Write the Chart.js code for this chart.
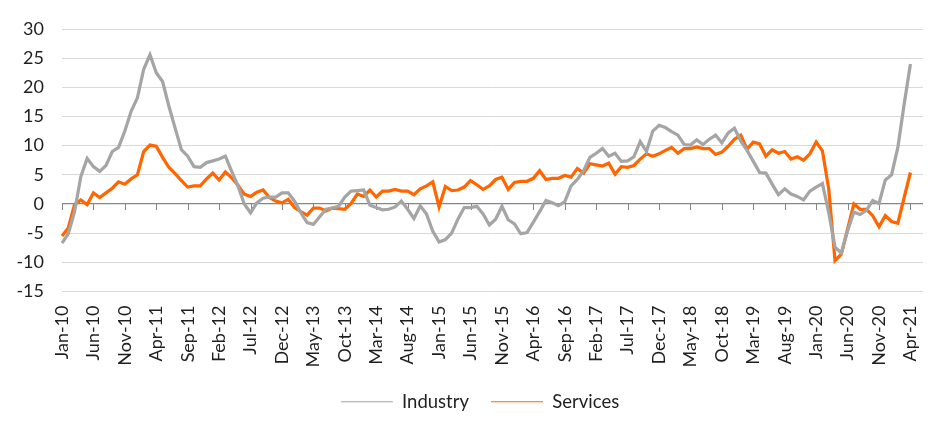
<!DOCTYPE html>
<html lang="en">
<head>
  <meta charset="UTF-8" />
  <title>Industry and Services</title>
  <script src="https://cdn.jsdelivr.net/npm/chart.js"></script>
  <style>
    html, body {
      margin: 0;
      padding: 0;
      background: #ffffff;
    }
    #wrap {
      width: 952px;
      height: 438px;
    }
  </style>
</head>
<body>
  <div id="wrap"><canvas id="chart" width="952" height="438"></canvas></div>

  <script>
    // categories: monthly, Jan-10 onwards (axis runs two months past the last value)
    const monthNames = ['Jan', 'Feb', 'Mar', 'Apr', 'May', 'Jun', 'Jul', 'Aug', 'Sep', 'Oct', 'Nov', 'Dec'];
    const firstYear = 2010;
    const monthCount = 138;
    const labelStep = 5;

    const industry = [
      -6.7, -5.1, -1.3, 4.7, 7.8, 6.4, 5.6, 6.6, 9.0, 9.7, 12.5, 15.9,
      18.2, 23.1, 25.6, 22.5, 21.0, 16.8, 13.0, 9.3, 8.2, 6.4, 6.3, 7.1,
      7.4, 7.7, 8.2, 5.6, 3.1, 0.0, -1.5, 0.2, 1.0, 1.2, 1.2, 1.9,
      1.9, 0.5, -1.5, -3.2, -3.5, -2.2, -0.9, -0.7, -0.4, 1.2, 2.2, 2.3,
      2.4, -0.2, -0.6, -1.0, -0.9, -0.5, 0.5, -0.9, -2.5, -0.3, -1.7, -4.7,
      -6.5, -6.1, -5.0, -2.6, -0.6, -0.6, -0.4, -1.7, -3.6, -2.6, -0.4, -2.7,
      -3.4, -5.1, -4.9, -3.1, -1.3, 0.6, 0.2, -0.3, 0.4, 3.1, 4.2, 5.7,
      8.0, 8.7, 9.5, 8.2, 8.7, 7.3, 7.4, 8.1, 10.7, 9.0, 12.5, 13.5,
      13.1, 12.4, 11.8, 10.2, 10.1, 11.0, 10.2, 11.1, 11.8, 10.5, 12.2, 13.0,
      10.8, 9.2, 7.3, 5.4, 5.3, 3.4, 1.6, 2.6, 1.7, 1.3, 0.7, 2.2,
      2.9, 3.5, -1.5, -7.4, -8.4, -4.6, -1.4, -1.8, -1.1, 0.6, 0.1, 4.1,
      5.0, 9.7, 17.1, 24.0
    ];

    const services = [
      -5.5, -4.1, -0.1, 0.7, -0.1, 1.9, 1.1, 1.9, 2.7, 3.8, 3.4, 4.3,
      5.0, 9.0, 10.1, 9.9, 8.0, 6.3, 5.2, 4.0, 2.9, 3.1, 3.1, 4.3,
      5.3, 4.1, 5.5, 4.5, 3.2, 1.7, 1.3, 2.0, 2.4, 1.1, 0.5, 0.2,
      0.8, -0.6, -1.3, -1.9, -0.7, -0.7, -1.2, -0.7, -0.8, -0.9, 0.1, 1.7,
      1.3, 2.4, 1.2, 2.2, 2.2, 2.5, 2.2, 2.2, 1.6, 2.6, 3.1, 3.8,
      -0.5, 3.0, 2.3, 2.4, 2.9, 4.0, 3.3, 2.5, 3.1, 4.2, 4.6, 2.5,
      3.7, 3.9, 3.9, 4.4, 5.7, 4.2, 4.4, 4.4, 4.9, 4.6, 6.1, 5.3,
      6.9, 6.7, 6.5, 7.0, 5.1, 6.4, 6.3, 6.6, 7.7, 8.6, 8.2, 8.6,
      9.2, 9.7, 8.7, 9.5, 9.5, 9.8, 9.5, 9.5, 8.5, 8.9, 9.9, 11.1,
      11.8, 9.4, 10.6, 10.3, 8.2, 9.3, 8.7, 9.0, 7.7, 8.1, 7.5, 8.6,
      10.6, 9.1, 2.6, -9.7, -8.6, -4.3, 0.0, -0.9, -0.9, -2.0, -3.9, -2.0,
      -3.0, -3.3, 1.1, 5.4
    ];

    const yMin = -15;
    const yMax = 30;
    const yStep = 5;

    const labels = [];
    for (let i = 0; i < monthCount; i++) {
      const yy = String((firstYear + Math.floor(i / 12)) % 100).padStart(2, '0');
      labels.push(monthNames[i % 12] + '-' + yy);
    }

    // short tick marks hanging under the zero line, one per shown label
    const zeroTicks = {
      id: 'zeroTicks',
      beforeDatasetsDraw(chart) {
        const { ctx, scales: { x, y } } = chart;
        const y0 = Math.round(y.getPixelForValue(0));
        ctx.save();
        ctx.strokeStyle = '#868686';
        ctx.lineWidth = 1;
        ctx.beginPath();
        for (let i = 0; i < industry.length; i += labelStep) {
          const px = Math.round(x.getPixelForValue(i)) + 0.5;
          ctx.moveTo(px, y0);
          ctx.lineTo(px, y0 + 6);
        }
        ctx.stroke();
        ctx.restore();
      }
    };

    const font = "Lato, 'Liberation Sans', sans-serif";

    new Chart(document.getElementById('chart'), {
      type: 'line',
      data: {
        labels,
        datasets: [
          { label: 'Industry', data: industry, borderColor: '#A5A5A5', backgroundColor: '#A5A5A5' },
          { label: 'Services', data: services, borderColor: '#FF6600', backgroundColor: '#FF6600' }
        ]
      },
      options: {
        responsive: false,
        animation: false,
        layout: { padding: { top: 29, right: 0, bottom: 17, left: 8 } },
        elements: {
          point: { radius: 0 },
          line: { borderWidth: 3.25, tension: 0 }
        },
        scales: {
          x: {
            type: 'category',
            offset: false,
            grid: { display: false, drawTicks: false },
            border: { display: false },
            afterFit(scale) {
              scale.height = 79;
              scale.paddingLeft = 0;
              scale.paddingRight = 0;
            },
            ticks: {
              autoSkip: false,
              minRotation: 90,
              maxRotation: 90,
              padding: 14,
              color: '#1f1f1f',
              font: { family: font, size: 18 },
              callback: (v, i) => (i % labelStep === 0 ? labels[i] : '')
            }
          },
          y: {
            min: yMin,
            max: yMax,
            grid: {
              drawTicks: false,
              color: ctx => (ctx.tick && ctx.tick.value === 0 ? '#868686' : '#D9D9D9'),
              lineWidth: ctx => (ctx.tick && ctx.tick.value === 0 ? 1.3 : 1)
            },
            border: { display: false },
            afterFit(scale) { scale.width = 54; },
            ticks: {
              stepSize: yStep,
              padding: 18,
              color: '#1f1f1f',
              font: { family: font, size: 18 }
            }
          },
          // empty spacer on the right so the legend stays centred on the page
          spacer: {
            type: 'linear',
            position: 'right',
            grid: { display: false, drawTicks: false },
            border: { display: false },
            ticks: { display: false },
            afterFit(scale) { scale.width = 29; }
          }
        },
        plugins: {
          legend: {
            position: 'bottom',
            labels: {
              usePointStyle: true,
              pointStyle: 'line',
              pointStyleWidth: 52,
              padding: 22,
              color: '#1f1f1f',
              font: { family: font, size: 18.5 }
            }
          },
          tooltip: { enabled: false }
        }
      },
      plugins: [zeroTicks]
    });
  </script>
</body>
</html>
